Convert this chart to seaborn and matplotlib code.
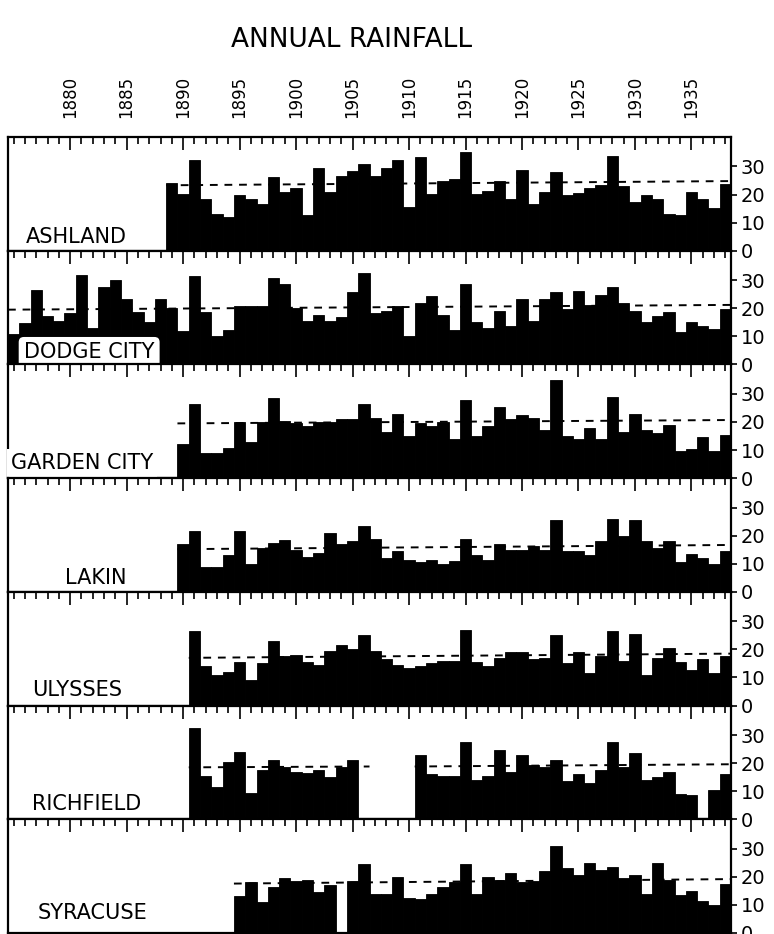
import numpy as np
import pandas as pd
import seaborn as sns
import matplotlib.pyplot as plt
from matplotlib.ticker import MultipleLocator

# Annual rainfall (inches).
# None = no record for that year.
last_year = 1938

ashland_start = 1889
ashland = [24.2, 20.3, 32.3, 18.5, 13.0, 12.0, 19.7, 18.5, 16.5, 26.2,
           20.9, 22.4, 12.6, 29.5, 20.9, 26.7, 28.3, 30.9, 26.7, 29.3,
           32.3, 15.6, 33.5, 20.3, 25.0, 25.5, 35.0, 20.3, 21.3, 25.0,
           18.4, 28.6, 16.8, 20.9, 28.0, 19.7, 20.7, 22.4, 23.3, 33.9,
           22.9, 17.2, 20.0, 18.5, 13.2, 12.6, 20.9, 18.5, 15.3, 23.6]

dodge_start = 1875
dodge_city = [10.8, 14.8, 26.4, 17.4, 15.6, 18.2, 32.0, 12.8, 27.6, 30.0,
              23.2, 18.8, 15.0, 23.2, 20.0, 11.8, 31.6, 18.8, 10.2, 12.4,
              20.8, 20.8, 20.8, 30.9, 28.5, 20.0, 15.6, 17.6, 15.6, 17.0,
              25.8, 32.4, 18.4, 19.2, 20.8, 10.0, 22.0, 24.4, 17.6, 12.4,
              28.6, 15.0, 12.8, 19.2, 13.6, 23.2, 15.6, 23.2, 25.8, 19.6,
              26.0, 21.2, 24.8, 27.6, 22.0, 19.2, 15.2, 17.2, 18.6, 11.6,
              15.2, 13.8, 12.6, 19.8]

garden_start = 1890
garden_city = [12.0, 26.5, 9.0, 9.0, 10.8, 20.0, 13.0, 20.0, 28.5, 20.5,
               19.5, 18.5, 20.0, 20.0, 21.0, 21.0, 26.5, 21.5, 16.5, 23.0,
               15.0, 19.5, 18.5, 20.0, 14.0, 28.0, 15.0, 18.5, 25.5, 21.0,
               22.5, 21.5, 17.0, 35.0, 15.0, 14.0, 18.0, 14.0, 29.0, 16.5,
               23.0, 17.0, 16.0, 19.0, 9.5, 10.5, 14.5, 9.5, 15.5]

lakin_start = 1890
lakin = [17.0, 21.5, 9.0, 9.0, 13.0, 21.5, 10.0, 15.5, 17.5, 18.5,
         15.0, 12.5, 14.0, 21.0, 17.0, 18.0, 23.5, 19.0, 12.0, 14.5,
         11.5, 10.5, 11.5, 10.0, 11.0, 19.0, 13.0, 11.5, 17.0, 15.0,
         15.0, 16.5, 15.0, 25.5, 14.5, 14.5, 13.0, 18.0, 26.0, 20.0,
         25.5, 18.0, 15.5, 18.0, 10.5, 13.5, 12.0, 10.0, 14.5]

ulysses_start = 1891
ulysses = [26.5, 14.0, 11.0, 12.0, 15.5, 9.0, 15.0, 23.0, 17.5, 18.0,
           15.5, 14.5, 19.5, 21.5, 20.0, 25.0, 19.5, 16.5, 14.5, 13.5,
           14.0, 15.0, 16.0, 16.0, 27.0, 15.5, 14.0, 17.0, 19.0, 19.0,
           16.5, 17.0, 25.0, 15.0, 19.0, 11.5, 17.5, 26.5, 16.0, 25.5,
           11.0, 17.0, 20.5, 15.5, 12.5, 16.5, 11.5, 17.5]

richfield_start = 1891
richfield = [32.5, 15.5, 11.5, 20.5, 24.0, 9.5, 17.5, 21.0, 18.5, 17.0,
             16.5, 17.5, 15.0, 18.5, 21.0, None, None, None, None, None,
             23.0, 16.0, 15.5, 15.5, 27.5, 14.0, 15.5, 24.5, 17.0, 23.0,
             19.5, 18.5, 21.0, 13.5, 16.0, 13.0, 17.5, 27.5, 18.5, 23.5,
             14.0, 15.0, 17.0, 9.0, 8.5, None, 10.5, 16.0]

syracuse_start = 1895
syracuse = [13.0, 18.0, 11.0, 16.5, 19.5, 18.5, 19.0, 14.5, 17.0, None,
            18.5, 24.5, 14.0, 14.0, 20.0, 12.5, 12.0, 14.0, 16.5, 18.0,
            24.5, 14.0, 20.0, 19.0, 21.5, 18.0, 18.5, 22.0, 31.0, 23.0,
            20.5, 25.0, 22.5, 23.5, 19.5, 20.5, 14.0, 25.0, 19.0, 13.5,
            15.0, 11.5, 10.0, 17.5]

# dashed "normal" lines: (from year, to year, level at start, level at end)
ashland_normal = [(1889, 1938, 23.3, 24.8)]
dodge_normal = [(1875, 1938, 19.5, 21.2)]
garden_normal = [(1890, 1938, 19.5, 20.7)]
lakin_normal = [(1890, 1938, 15.2, 16.7)]
ulysses_normal = [(1891, 1938, 17.0, 18.5)]
richfield_normal = [(1891, 1906, 18.5, 18.8), (1911, 1938, 18.8, 19.6)]
syracuse_normal = [(1895, 1938, 17.6, 19.2)]

stations = ["ASHLAND", "DODGE CITY", "GARDEN CITY", "LAKIN",
            "ULYSSES", "RICHFIELD", "SYRACUSE"]
starts = [ashland_start, dodge_start, garden_start, lakin_start,
          ulysses_start, richfield_start, syracuse_start]
series = [ashland, dodge_city, garden_city, lakin, ulysses, richfield, syracuse]
normals = [ashland_normal, dodge_normal, garden_normal, lakin_normal,
           ulysses_normal, richfield_normal, syracuse_normal]

label_years = list(range(1880, 1936, 5))
rain_ticks = [0, 10, 20, 30]

# where each station name sits (axes fraction)
name_pos = [(0.024, 0.07), (0.022, 0.055), (0.004, 0.08), (0.079, 0.07),
            (0.033, 0.08), (0.033, 0.085), (0.041, 0.12)]

sns.set_style("ticks")
plt.rcParams["font.family"] = ["DejaVu Sans"]
for key in ["text.color", "axes.labelcolor", "xtick.color", "ytick.color",
            "axes.edgecolor"]:
    plt.rcParams[key] = "black"

fig = plt.figure(figsize=(7.74, 9.34), dpi=100)
gs = fig.add_gridspec(7, 1, left=8/774, right=731/774,
                      top=1 - 137/934, bottom=1/934, hspace=0)

for i, (name, start, vals, norm) in enumerate(zip(stations, starts, series, normals)):
    ax = fig.add_subplot(gs[i])
    df = pd.DataFrame({"year": np.arange(start, start + len(vals)),
                       "rain": pd.to_numeric(pd.Series(vals), errors="coerce")})
    df = df.dropna()

    sns.barplot(data=df, x="year", y="rain", native_scale=True, width=1,
                color="black", saturation=1, errorbar=None,
                edgecolor="black", linewidth=0.6, zorder=2, ax=ax)

    for y0, y1, m0, m1 in norm:
        sns.lineplot(x=[y0 - 0.5, y1 + 0.5], y=[m0, m1], ax=ax, color="black",
                     linestyle=(0, (4, 3.5)), linewidth=1.4, zorder=1)

    ax.set_xlim(1874.5, last_year + 0.5)
    ax.set_ylim(0, 40.5)
    ax.set_xlabel("")
    ax.set_ylabel("")

    # year ticks along the top of every panel
    ax.set_xticks(label_years)
    ax.xaxis.set_minor_locator(MultipleLocator(1))
    ax.tick_params(axis="x", which="both", direction="in", top=True,
                   bottom=False, labelbottom=False, labeltop=(i == 0),
                   width=1.2)
    ax.tick_params(axis="x", which="major", length=9, pad=14,
                   labelsize=12, labelrotation=90)
    ax.tick_params(axis="x", which="minor", length=5)

    # rainfall scale on the right
    ax.yaxis.tick_right()
    ax.set_yticks(rain_ticks)
    ax.tick_params(axis="y", direction="out", length=4, width=1.2,
                   labelsize=14, pad=3, left=False)

    for sp in ax.spines.values():
        sp.set_visible(True)
        sp.set_linewidth(1.6)

    tx, ty = name_pos[i]
    box = None
    if name == "DODGE CITY":
        box = dict(boxstyle="round,pad=0.3,rounding_size=0.3",
                   fc="white", ec="black", lw=1.5)
    elif name == "GARDEN CITY":
        box = dict(boxstyle="square,pad=0.2", fc="white", ec="none")
    ax.text(tx, ty, name, transform=ax.transAxes, fontsize=15,
            ha="left", va="baseline", zorder=5, bbox=box)

fig.text(352/774, 1 - 40/934, "ANNUAL RAINFALL", ha="center", va="center",
         fontsize=19)

fig.savefig("out.png", dpi=100)
